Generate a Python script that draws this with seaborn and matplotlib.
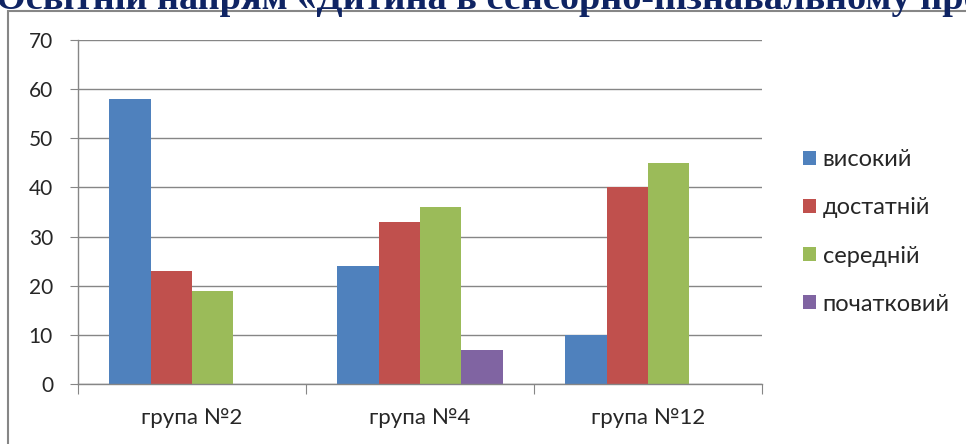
import pandas as pd
import numpy as np
import matplotlib.pyplot as plt
import matplotlib.patches as patches
import seaborn as sns

# data
groups = ['група №2', 'група №4', 'група №12']
levels = ['високий', 'достатній', 'середній', 'початковий']
vysokyi = [58, 24, 10]
dostatnii = [23, 33, 40]
serednii = [19, 36, 45]
pochatkovyi = [0, 7, 0]
y_ticks = [0, 10, 20, 30, 40, 50, 60, 70]
colors = ['#4F81BD', '#C0504D', '#9BBB59', '#8064A2']
title = 'Освітній напрям «Дитина в сенсорно-пізнавальному просторі»'

df = pd.DataFrame({
    'group': groups * 4,
    'level': [lv for lv in levels for _ in groups],
    'value': vysokyi + dostatnii + serednii + pochatkovyi,
})

sns.set_style('white')
plt.rcParams['font.family'] = ['Lato', 'DejaVu Sans']

fig = plt.figure(figsize=(9.66, 4.44), dpi=100)
ax = fig.add_axes([78 / 966, 1 - 384 / 444, (762 - 78) / 966, (384 - 40) / 444])

sns.barplot(data=df, x='group', y='value', hue='level', hue_order=levels,
            order=groups, palette=colors, width=0.725, gap=0,
            saturation=1, linewidth=0, ax=ax)

grey = '#868686'
ax.set_ylim(0, 70)
ax.set_xlim(-0.5, 2.5)
ax.set_yticks(y_ticks)
ax.yaxis.grid(True, color=grey, linewidth=1)
ax.set_axisbelow(True)
ax.set_xlabel('')
ax.set_ylabel('')
for s in ['top', 'right']:
    ax.spines[s].set_visible(False)
for s in ['left', 'bottom']:
    ax.spines[s].set_color(grey)
    ax.spines[s].set_linewidth(1)

ax.tick_params(axis='y', left=True, length=6, color=grey, labelsize=15, pad=12)
# category boundary ticks on the x axis
ax.set_xticks([-0.5, 0.5, 1.5, 2.5], minor=False)
ax.set_xticklabels([''] * 4)
ax.tick_params(axis='x', bottom=True, length=7, color=grey)
ax.set_xticks([0, 1, 2], minor=True)
ax.set_xticklabels(groups, minor=True)
ax.tick_params(axis='x', which='minor', length=0, labelsize=16, pad=17)

ax.legend(loc='center left', bbox_to_anchor=(791 / 966, 1 - 232 / 444),
          bbox_transform=fig.transFigure, frameon=False, fontsize=17,
          handlelength=0.55, handleheight=0.55, handletextpad=0.3,
          labelspacing=1.15, borderpad=0)

# outer chart border (runs off the right and bottom edges)
fig.patches.append(patches.Rectangle((8 / 966, -0.1), 1.2, 1.1 - 11 / 444,
                                     transform=fig.transFigure, fill=False,
                                     edgecolor=grey, linewidth=1.5))

fig.text(-4 / 966, 1 - 9 / 444, title, ha='left', va='baseline',
         fontsize=27.5, fontweight='bold', color='#0F2463',
         family=['Liberation Serif', 'DejaVu Serif'])

fig.savefig('out.png', dpi=100)
